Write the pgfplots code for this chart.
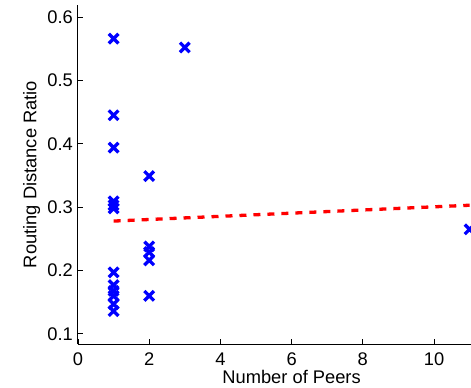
\documentclass[border=0pt]{standalone}
\usepackage{pgfplots}
\pgfplotsset{compat=1.18}
\usepackage{fontspec}
\setmainfont{Liberation Sans}
\newcommand{\chartfont}{\fontsize{18.3}{21}\selectfont}
\begin{document}
\begin{tikzpicture}
\begin{axis}[
  scale only axis,
  width=427.2pt, height=339pt,
  xmin=0, xmax=12, ymin=0.084, ymax=0.619,
  axis x line=bottom, axis y line=left,
  axis line style={-, line width=1pt, black},
  tick align=inside,
  major tick length=5pt,
  tick style={line width=0.8pt, black},
  xtick={0,2,4,6,8,10},
  ytick={0.1,0.2,0.3,0.4,0.5,0.6},
  yticklabel style={/pgf/number format/fixed, /pgf/number format/fixed zerofill, /pgf/number format/precision=1, anchor=east, inner sep=0pt, xshift=-5pt},
  xticklabel style={anchor=center, inner sep=0pt, yshift=-15pt},
  /pgf/number format/assume math mode=true,
  tick label style={font=\chartfont},
  label style={font=\chartfont},
  xlabel={Number of Peers},
  ylabel={Routing Distance Ratio},
  xlabel style={at={(axis description cs:0.5,-0.0973)}, anchor=center, inner sep=0pt},
  ylabel style={at={(axis description cs:-0.1088,0.5)}, anchor=center, inner sep=0pt},
  clip=false,
]
\addplot[only marks, mark=x, mark size=6.8pt, line width=3.3pt, color={rgb,255:red,0;green,0;blue,255}, mark options={line width=3.3pt, solid}] coordinates {
  (1,0.566) (1,0.445) (1,0.394) (1,0.309) (1,0.303) (1,0.298)
  (1,0.197) (1,0.177) (1,0.168) (1,0.160) (1,0.147) (1,0.136)
  (2,0.349) (2,0.238) (2,0.229) (2,0.216) (2,0.160)
  (3,0.552)
  (11,0.265)
};
\addplot[color={rgb,255:red,255;green,0;blue,0}, line width=3.3pt, dash pattern=on 7pt off 7pt] coordinates {
  (1,0.278) (11,0.303)
};
\end{axis}
\pgfresetboundingbox
\useasboundingbox (-78pt,-44pt) rectangle (393pt,344pt);
\end{tikzpicture}
\end{document}
